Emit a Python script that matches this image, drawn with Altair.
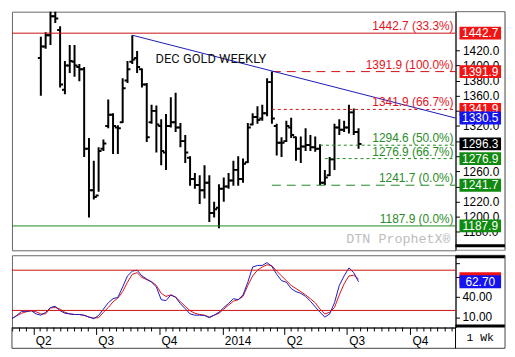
import altair as alt
import pandas as pd

# ---------------- data ----------------
# weekly OHLC bars (Dec gold), first bar week of 12 Apr 2013
bar_high = [1438, 1444, 1480, 1480, 1452, 1406, 1427, 1427, 1402, 1398,
            1304, 1274, 1292, 1302, 1355, 1337, 1321, 1383, 1406, 1440,
            1419, 1396, 1377, 1348, 1347, 1329, 1336, 1358, 1364, 1324,
            1308, 1280, 1258, 1255, 1268, 1255, 1220, 1243, 1252, 1258,
            1274, 1280, 1277, 1324, 1337, 1346, 1348, 1383, 1392, 1323,
            1305, 1327, 1331, 1306, 1306, 1317, 1308, 1306, 1296, 1262,
            1279, 1323, 1329, 1327, 1348, 1343, 1317]
bar_low = [1360, 1422, 1427, 1456, 1371, 1362, 1390, 1385, 1379, 1279,
           1199, 1223, 1233, 1287, 1317, 1283, 1283, 1324, 1377, 1402,
           1390, 1371, 1299, 1323, 1285, 1268, 1262, 1318, 1312, 1292,
           1271, 1241, 1237, 1217, 1224, 1193, 1199, 1185, 1220, 1237,
           1241, 1241, 1245, 1271, 1321, 1323, 1327, 1333, 1323, 1281,
           1279, 1299, 1304, 1274, 1271, 1287, 1287, 1286, 1242, 1242,
           1254, 1262, 1308, 1312, 1310, 1308, 1290]
bar_open = [1410, 1425, 1440, 1465, 1447, 1368, 1400, 1405, 1398, 1395,
            1290, 1235, 1228, 1290, 1320, 1335, 1318, 1325, 1380, 1405,
            1410, 1395, 1375, 1325, 1340, 1320, 1285, 1320, 1325, 1318,
            1300, 1278, 1250, 1242, 1235, 1245, 1205, 1212, 1237, 1240,
            1248, 1262, 1250, 1272, 1322, 1332, 1330, 1337, 1378, 1320,
            1298, 1300, 1318, 1305, 1290, 1293, 1295, 1292, 1290, 1245,
            1255, 1276, 1318, 1315, 1318, 1338, 1312]
bar_close = [1425, 1440, 1465, 1462, 1375, 1400, 1406, 1400, 1395, 1290,
             1235, 1226, 1287, 1297, 1335, 1320, 1317, 1370, 1395, 1408,
             1398, 1375, 1305, 1340, 1322, 1287, 1320, 1325, 1318, 1300,
             1285, 1250, 1242, 1235, 1245, 1205, 1210, 1237, 1240, 1248,
             1262, 1250, 1270, 1318, 1332, 1328, 1337, 1378, 1330, 1298,
             1298, 1320, 1308, 1290, 1293, 1295, 1292, 1290, 1245, 1252,
             1276, 1318, 1315, 1318, 1338, 1312, 1296.3]

# stochastic (%K blue, %D red), weekly from 1 Mar 2013
stoch_k = [7.7, 12.5, 18.6, 18.6, 19.6, 14.8, 12.9, 17.2, 24.3, 26.2,
           19.6, 15.8, 14.8, 13.9, 13.9, 12.9, 10.1, 7.7, 12.5, 21.9,
           31.4, 37.5, 39.5, 55.0, 71.5, 78.6, 80.0, 71.5, 66.8, 62.1,
           55.0, 36.0, 34.6, 43.1, 39.5, 30.0, 22.5, 14.8, 12.9, 12.9,
           12.5, 9.1, 12.9, 17.2, 24.3, 30.4, 37.5, 36.0, 43.1, 62.1,
           84.8, 87.1, 87.1, 91.3, 85.7, 73.9, 64.4, 62.1, 52.6, 48.0,
           45.5, 40.9, 33.8, 25.3, 17.2, 10.1, 14.8, 31.4, 57.3, 71.5,
           83.4, 76.3, 62.7]
stoch_d = [8.0, 12.0, 15.8, 18.0, 19.6, 18.0, 14.8, 14.8, 23.7, 24.3,
           21.9, 17.2, 14.8, 13.9, 13.9, 12.5, 10.1, 8.7, 9.2, 17.2,
           24.3, 32.8, 38.5, 48.0, 62.1, 73.9, 76.3, 69.2, 65.8, 63.0,
           57.3, 45.5, 40.9, 43.1, 40.0, 33.0, 26.0, 19.6, 15.8, 13.9,
           12.9, 10.1, 12.9, 15.8, 21.9, 28.0, 33.8, 36.0, 40.9, 57.3,
           71.5, 80.0, 84.8, 88.1, 86.7, 78.6, 71.5, 64.4, 57.3, 52.6,
           48.0, 43.1, 37.5, 31.4, 21.9, 14.8, 17.2, 24.3, 43.1, 59.7,
           71.5, 72.5, 66.8]

price_ticks = [1180, 1200, 1220, 1240, 1260, 1280, 1300, 1320, 1340,
               1360, 1380, 1400, 1420]
price_hidden = [1240, 1280, 1300, 1340]     # labels covered by price boxes
stoch_ticks = [10, 40, 70, 90]
stoch_labels = [10, 40]
quarter_starts = ["2013-04-01", "2013-07-01", "2013-10-01", "2014-01-01",
                  "2014-04-01", "2014-07-01", "2014-10-01"]

# horizontal levels
line_values = [1442.7, 1391.9, 1341.9, 1294.6, 1276.9, 1241.7, 1187.9]
line_pcts = ["33.3%", "100.0%", "66.7%", "50.0%", "66.7%", "0.0%", "0.0%"]
line_style = ["solid", "long", "dot", "dot", "dot", "long", "solid"]
line_anchor = [-1, 48, 48, 58, 59, 48, -1]   # bar where the level starts
line_side = ["red", "red", "red", "green", "green", "green", "green"]

trend_anchor = 19
trend_values = [1440.0, 1330.5]

box_values = [1442.7, 1391.9, 1341.9, 1330.5, 1296.3, 1276.9, 1241.7, 1187.9]
box_kind = ["red", "red", "red", "blue", "black", "green", "green", "green"]
stoch_box_values = [67.5, 62.7]
stoch_box_kind = ["red", "blue"]
stoch_levels = [80, 20]

# ---------------- layout / styles ----------------
W, H1, H2, RC, STRIP = 448, 241, 73, 50, 21
FONT = "Liberation Sans"
RED_LINE, GREEN_LINE = "#cc1111", "#1f8a1f"
RED_TXT, GREEN_TXT = "#e3141e", "#2a8c2a"
BOX = {"red": "#f01414", "blue": "#1414f0", "black": "#000000", "green": "#108a10"}

week = pd.date_range("2013-03-01", periods=len(stoch_k), freq="7D")
date_str = [d.strftime("%Y-%m-%d") for d in week]
bar_dates = date_str[len(stoch_k) - len(bar_high):]
END = "2014-12-06"

x_dom = [alt.DateTime(year=2013, month=3, date=1, utc=True),
         alt.DateTime(year=2014, month=12, date=6, utc=True)]
xscale = alt.Scale(type="utc", domain=x_dom)
ytop = alt.Scale(domain=[1155.7, 1471.1], nice=False, zero=False)
ybot = alt.Scale(domain=[-5.5, 102.3], nice=False, zero=False)

hidden_expr = " || ".join(f"datum.value == {v}" for v in price_hidden)

# identical axis objects are given to every layer that uses the scale
yaxis_top = alt.Axis(orient="right", values=price_ticks, title=None,
                     labelExpr=f"({hidden_expr}) ? '' : format(datum.value, '.1f')",
                     grid=False, tickSize=4, labelPadding=3, labelFontSize=12,
                     labelFont=FONT, labelColor="black", tickColor="black",
                     domainColor="black", labelOverlap=False)
yaxis_bot = alt.Axis(orient="right", values=stoch_ticks, title=None, grid=False,
                     labels=False, tickSize=4, tickColor="black", domainColor="black")
q_vals = [alt.DateTime(year=int(s[:4]), month=int(s[5:7]), date=1, utc=True)
          for s in quarter_starts]
xaxis_bot = alt.Axis(orient="bottom", values=q_vals, title=None, grid=False,
                     labelExpr="utcmonth(datum.value) == 0 ? utcFormat(datum.value, '%Y') : "
                               "'Q' + (floor(utcmonth(datum.value) / 3) + 1)",
                     labelAlign="left", labelOffset=2, labelPadding=1, tickSize=7,
                     labelFontSize=12, labelFont=FONT, labelColor="black",
                     tickColor="black", domainColor="black", labelFlush=False,
                     labelOverlap=False)


def one():
    return alt.Chart(pd.DataFrame({"z": [0]}))


def prule(x, x2, y, y2, color, width=1):
    return one().mark_rule(color=color, strokeWidth=width).encode(
        x=alt.value(x), x2=alt.value(x2), y=alt.value(y), y2=alt.value(y2))


def prect(x, x2, y, y2, color):
    return one().mark_rect(color=color).encode(
        x=alt.value(x), x2=alt.value(x2), y=alt.value(y), y2=alt.value(y2))


XT = alt.X("date:T", scale=xscale, axis=None)


def YT(field):
    return alt.Y(field, scale=ytop, axis=yaxis_top)


def YB(field):
    return alt.Y(field, scale=ybot, axis=yaxis_bot)


# ---------------- top panel ----------------
bars = pd.DataFrame({"date": bar_dates, "high": bar_high, "low": bar_low,
                     "open": bar_open, "close": bar_close})

hilo = alt.Chart(bars).mark_rule(color="black", strokeWidth=2, clip=True).encode(
    x=XT, y=YT("high:Q"), y2="low:Q")
opn = alt.Chart(bars).mark_rule(color="black", strokeWidth=2, clip=True,
                                xOffset=-3, x2Offset=0).encode(
    x=XT, x2="date:T", y=YT("open:Q"))
cls = alt.Chart(bars).mark_rule(color="black", strokeWidth=2, clip=True,
                                xOffset=0, x2Offset=3).encode(
    x=XT, x2="date:T", y=YT("close:Q"))

levels = pd.DataFrame({
    "value": line_values,
    "start": [date_str[0] if a < 0 else bar_dates[a] for a in line_anchor],
    "end": [END] * len(line_values),
    "style": line_style,
    "lcolor": [RED_LINE if s == "red" else GREEN_LINE for s in line_side],
    "tcolor": [RED_TXT if s == "red" else GREEN_TXT for s in line_side],
    "label": [f"{v:.1f} ({p})" for v, p in zip(line_values, line_pcts)],
})


def level_layer(style, dash=None):
    kw = {"strokeWidth": 1}
    if dash:
        kw["strokeDash"] = dash
    return alt.Chart(levels).transform_filter(
        alt.datum.style == style).mark_rule(**kw).encode(
        x=alt.X("start:T", scale=xscale, axis=None), x2="end:T",
        y=YT("value:Q"), color=alt.Color("lcolor:N", scale=None))


lv_solid = level_layer("solid")
lv_long = level_layer("long", [9, 6])
lv_dot = level_layer("dot", [3, 3])

lv_text = alt.Chart(levels).mark_text(
    align="right", baseline="alphabetic", dy=-3, fontSize=12, font=FONT).encode(
    x=alt.value(W - 2), y=YT("value:Q"),
    text="label:N", color=alt.Color("tcolor:N", scale=None))

trend = pd.DataFrame({"date": [bar_dates[trend_anchor], END], "value": trend_values})
trend_line = alt.Chart(trend).mark_line(color="#1a1ab4", strokeWidth=1).encode(
    x=XT, y=YT("value:Q"))

title_txt = one().mark_text(text="DEC GOLD WEEKLY", font="Roboto", fontSize=13,
                            color="#111111", align="center", baseline="middle").encode(
    x=alt.value(201), y=alt.value(48))
water = one().mark_text(text="DTN ProphetX\u00ae", font="Liberation Mono", fontSize=13.5,
                        color="#bdbdbd", align="right", baseline="middle").encode(
    x=alt.value(W - 5), y=alt.value(230))

boxes = pd.DataFrame({"value": box_values,
                      "fill": [BOX[k] for k in box_kind],
                      "label": [f"{v:.1f}" for v in box_values],
                      "grp": [0, 0, 0, 1, 1, 1, 1, 1]})


def box_layers(df, ych, half, grp, with_text=True):
    base = alt.Chart(df).transform_filter(alt.datum.grp == grp)
    r = base.transform_calculate(
        lo=f"datum.value - {half}", hi=f"datum.value + {half}").mark_rect().encode(
        x=alt.value(W + 4), x2=alt.value(W + 46),
        y=ych("lo:Q"), y2="hi:Q",
        color=alt.Color("fill:N", scale=None))
    out = [r]
    if with_text:
        out.append(base.mark_text(color="white", fontSize=12, font=FONT,
                                  align="center", baseline="middle").encode(
            x=alt.value(W + 25), y=ych("value:Q"), text="label:N"))
    return out


top_frame = [
    prule(W, W + RC, 0, 0, "#666666"),
    prule(W + RC, W + RC, 0, H1, "#444444"),
    prule(W, W + RC, H1, H1, "#888888"),
    prect(W, W + RC, H1 - 6, H1 - 3, "black"),
]

top = alt.layer(
    hilo, opn, cls, lv_solid, lv_long, lv_dot, trend_line, lv_text, title_txt, water,
    *box_layers(boxes, YT, 8.5, 0), *box_layers(boxes, YT, 8.5, 1), *top_frame,
).properties(width=W, height=H1)

# ---------------- bottom panel ----------------
stoch = pd.DataFrame({"date": date_str, "k": stoch_k, "d": stoch_d})
XB = alt.X("date:T", scale=xscale, axis=xaxis_bot)

d_line = alt.Chart(stoch).mark_line(color="#dd1111", strokeWidth=1).encode(
    x=XB, y=YB("d:Q"))
k_line = alt.Chart(stoch).mark_line(color="#1a1ac0", strokeWidth=1).encode(
    x=XB, y=YB("k:Q"))
s_lv = alt.Chart(pd.DataFrame({"value": stoch_levels})).mark_rule(
    color=RED_LINE, strokeWidth=1).encode(y=YB("value:Q"))
s_labels = alt.Chart(pd.DataFrame({"value": stoch_labels})).transform_calculate(
    txt="format(datum.value, '.2f')").mark_text(
    align="left", baseline="middle", fontSize=12, font=FONT, color="black").encode(
    x=alt.value(W + 7), y=YB("value:Q"), text="txt:N")

# minor ticks: eight between each pair of quarter starts
qs = pd.date_range("2013-01-01", "2015-01-01", freq="QS")
minor = []
for a, b in zip(qs[:-1], qs[1:]):
    minor += list(pd.date_range(a, b, periods=10)[1:-1])
minor = [d.strftime("%Y-%m-%d") for d in minor
         if pd.Timestamp("2013-03-01") < d < pd.Timestamp(END)]
minor_rules = alt.Chart(pd.DataFrame({"date": minor})).mark_rule(
    color="black", strokeWidth=1).encode(x=XB, y=alt.value(H2), y2=alt.value(H2 + 4))

sboxes = pd.DataFrame({"value": stoch_box_values,
                       "fill": [BOX[k] for k in stoch_box_kind],
                       "label": [f"{v:.2f}" for v in stoch_box_values],
                       "grp": [0, 1]})

wk = one().mark_text(text="1 Wk", font="Liberation Mono", fontSize=11.5, color="black",
                     align="center", baseline="middle").encode(
    x=alt.value(W + 25), y=alt.value(H2 + 11))

bot_frame = [
    prule(W, W + RC, 0, 0, "#888888"),
    prect(W, W + RC, 0, 3, "black"),
    prect(W, W + RC, H2 - 3, H2, "black"),
    prule(W + RC, W + RC, 0, H2 + STRIP, "#444444"),
    prule(0, W + RC, H2 + STRIP, H2 + STRIP, "#444444"),
    prule(0, 0, H2, H2 + STRIP, "#444444"),
    prule(W, W, H2, H2 + STRIP, "black"),
]

bottom = alt.layer(
    d_line, k_line, s_lv, minor_rules, s_labels,
    *box_layers(sboxes, YB, 9.6, 0, with_text=False), *box_layers(sboxes, YB, 9.6, 1),
    wk, *bot_frame,
).properties(width=W, height=H2)

chart = alt.vconcat(top, bottom, spacing=3).resolve_scale(
    x="independent", y="independent").properties(
    padding={"left": 1, "top": 1, "right": 1, "bottom": 1}, background="white"
).configure(font=FONT, view=alt.ViewConfig(stroke="#666666", strokeWidth=1))

chart.save("out.html", embed_options={"renderer": "svg", "actions": False})
